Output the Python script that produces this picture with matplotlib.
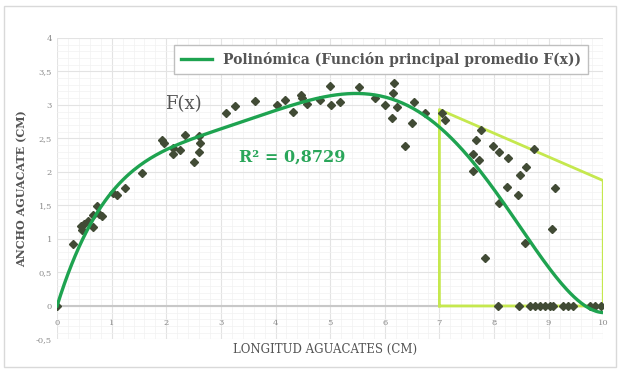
"""Avocado length vs width scatter with polynomial trendline."""

import numpy as np
import matplotlib

matplotlib.use("Agg")
import matplotlib.pyplot as plt
from matplotlib.patches import Rectangle
from matplotlib.ticker import MultipleLocator, FuncFormatter

# longitud (cm) and ancho (cm)
longitud = [
    0.0, 0.30, 0.43, 0.45, 0.49, 0.57, 0.65, 0.66, 0.74, 0.77, 0.82, 1.02, 1.10,
    1.25, 1.55, 1.93, 1.95, 2.12, 2.13, 2.25, 2.34, 2.50, 2.59, 2.60, 2.62,
    3.10, 3.25, 3.63, 4.02, 4.18, 4.32, 4.46, 4.48, 4.57, 4.82, 5.00, 5.01,
    5.18, 5.52, 5.82, 6.01, 6.14, 6.15, 6.17, 6.22, 6.37, 6.50, 6.54, 6.74,
    7.05, 7.11, 7.61, 7.61, 7.67, 7.72, 7.77, 7.84, 7.98, 8.10, 8.10, 8.24,
    8.25, 8.44, 8.47, 8.56, 8.59, 8.74, 9.06, 9.12,
    8.08, 8.45, 8.66, 8.75, 8.85, 8.94, 9.03, 9.08, 9.27, 9.36, 9.45, 9.76,
    9.85, 9.95,
]
ancho = [
    0.0, 0.92, 1.20, 1.13, 1.22, 1.26, 1.36, 1.18, 1.49, 1.37, 1.34, 1.68, 1.66,
    1.76, 1.98, 2.48, 2.43, 2.35, 2.27, 2.33, 2.55, 2.15, 2.54, 2.30, 2.43,
    2.88, 2.98, 3.06, 3.00, 3.07, 2.89, 3.15, 3.10, 3.02, 3.07, 3.28, 3.00,
    3.05, 3.27, 3.10, 3.00, 2.80, 3.17, 3.32, 2.97, 2.38, 2.73, 3.05, 2.88,
    2.88, 2.78, 2.27, 2.01, 2.47, 2.18, 2.62, 0.72, 2.38, 2.30, 1.53, 1.77,
    2.21, 1.66, 1.96, 0.94, 2.07, 2.34, 1.15, 1.76,
    0.0, 0.0, 0.0, 0.0, 0.0, 0.0, 0.0, 0.0, 0.0, 0.0, 0.0, 0.0,
    0.0, 0.0,
]

# outline of the highlighted region
zona_x = [7, 7, 10, 10, 7]
zona_y = [0, 2.93, 1.87, 0, 0]

r2_texto = "R² = 0,8729"
leyenda = "Polinómica (Función principal promedio F(x))"
SERIF = ["DejaVu Serif"]
GRADO = 6


def coma(v, _pos):
    return f"{v:g}".replace(".", ",")


def ajuste_sin_intercepto(x, y, grado):
    # polynomial trendline with the intercept fixed at 0
    x = np.asarray(x)
    cols = np.column_stack([x ** k for k in range(1, grado + 1)])
    c, *_ = np.linalg.lstsq(cols, np.asarray(y), rcond=None)
    return c


fig = plt.figure(figsize=(6.2, 3.71), dpi=100)
fig.patches.append(
    Rectangle((0.006, 0.01), 0.988, 0.975, transform=fig.transFigure,
              fill=False, edgecolor="#d9d9d9", linewidth=1)
)
ax = fig.add_axes([0.092, 0.085, 0.881, 0.813])

ax.set_xlim(0, 10)
ax.set_ylim(-0.5, 4)
ax.xaxis.set_major_locator(MultipleLocator(1))
ax.xaxis.set_minor_locator(MultipleLocator(0.2))
ax.yaxis.set_major_locator(MultipleLocator(0.5))
ax.yaxis.set_minor_locator(MultipleLocator(0.1))
ax.grid(which="major", color="#e3e3e3", linewidth=0.8)
ax.grid(which="minor", color="#f1f1f1", linewidth=0.5)
ax.set_axisbelow(True)
for s in ax.spines.values():
    s.set_visible(False)
ax.axhline(0, color="#c8c8c8", linewidth=1.5, zorder=1)

ax.tick_params(which="both", length=0, labelsize=6, labelcolor="#8c8c8c")
ax.yaxis.set_major_formatter(FuncFormatter(coma))
ax.xaxis.set_major_formatter(FuncFormatter(coma))
ax.tick_params(axis="x", pad=-15)
for lab in ax.get_xticklabels() + ax.get_yticklabels():
    lab.set_family(SERIF)

ax.plot(zona_x, zona_y, color="#c5e84e", linewidth=2, zorder=2)

ax.plot(longitud, ancho, linestyle="none", marker="D", markersize=4.5,
        color="#414b35", zorder=3)

coef = ajuste_sin_intercepto(longitud, ancho, GRADO)
xs = np.linspace(0, 10, 300)
ys = sum(c * xs ** (k + 1) for k, c in enumerate(coef))
ax.plot(xs, ys, color="#1ea350", linewidth=2.4, zorder=4, label=leyenda)

ax.text(2.31, 3.01, "F(x)", family=SERIF, fontsize=13, color="#555555",
        ha="center", va="center")
ax.text(4.3, 2.22, r2_texto, family=SERIF, fontsize=11.5, fontweight="bold",
        color="#2aa65a", ha="center", va="center")

leg = ax.legend(loc="upper right", bbox_to_anchor=(0.985, 1.0),
                prop={"family": SERIF, "weight": "bold", "size": 10},
                fancybox=False, edgecolor="#bfbfbf", framealpha=1,
                handlelength=2.2, borderpad=0.5)
for t in leg.get_texts():
    t.set_color("#555555")

fig.text(0.524, 0.057, "LONGITUD AGUACATES (CM)", family=SERIF, fontsize=8.5,
         color="#555555", ha="center", va="center")
ax.set_ylabel("ANCHO AGUACATE (CM)", family=SERIF, fontsize=8,
              fontweight="bold", color="#555555", labelpad=6)

fig.savefig("out.png", dpi=100)
